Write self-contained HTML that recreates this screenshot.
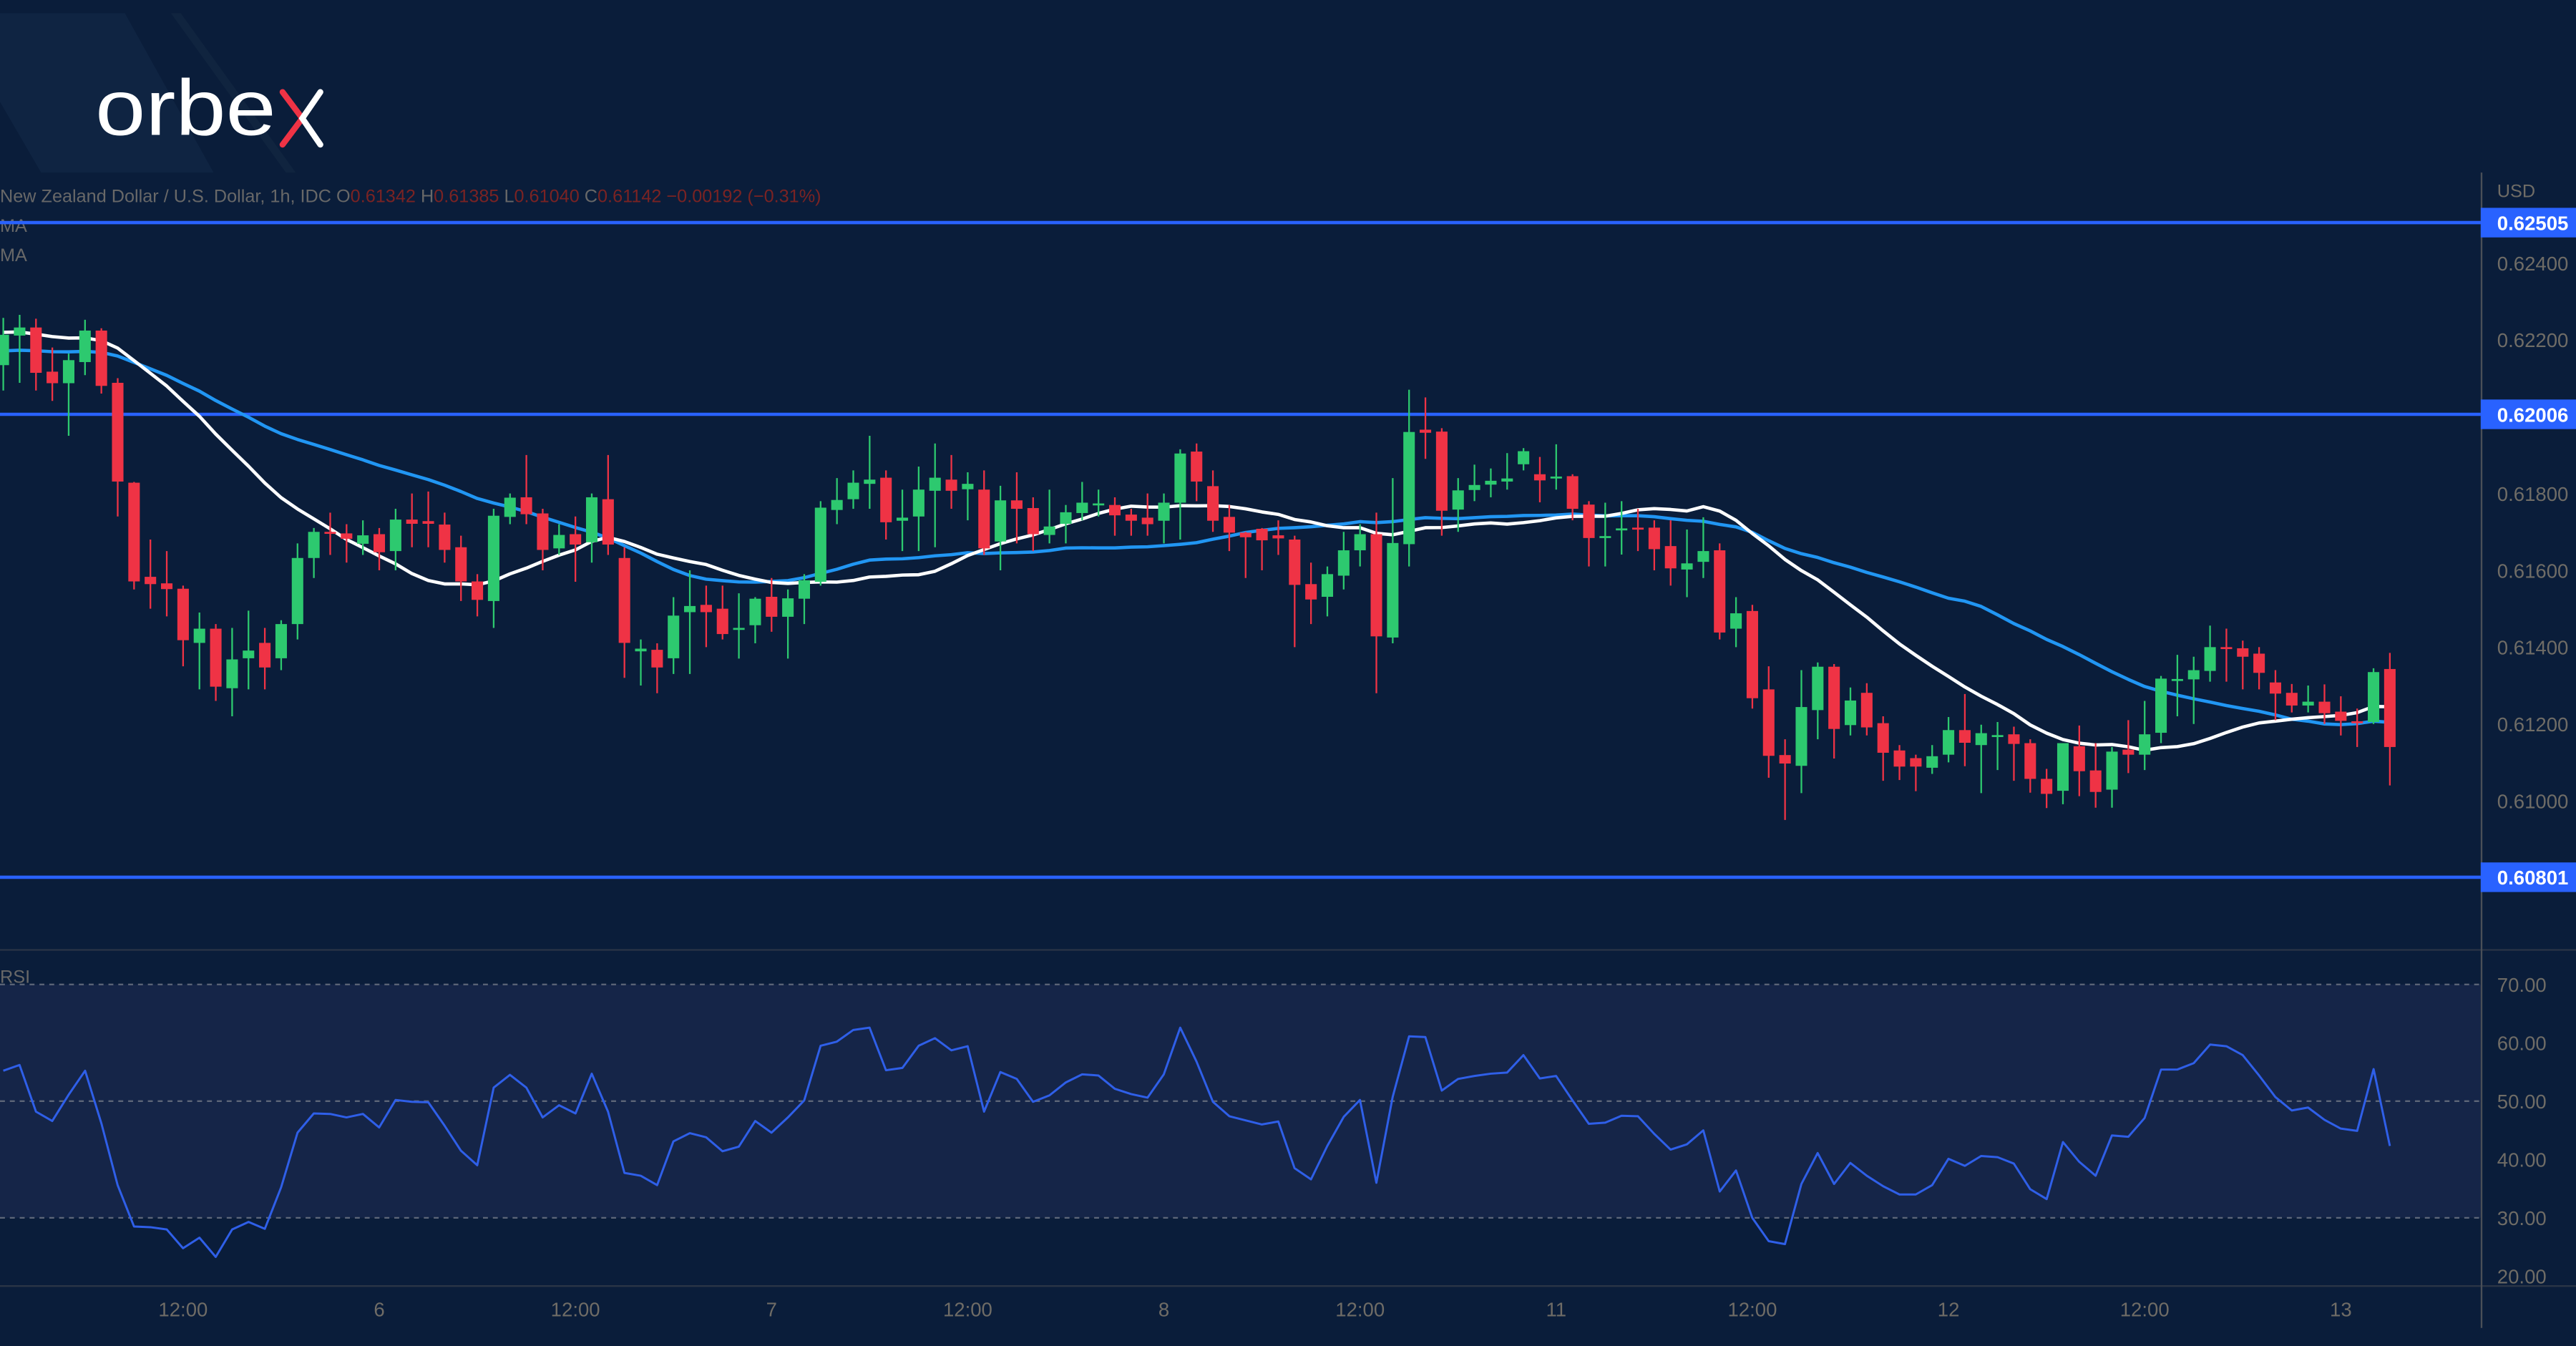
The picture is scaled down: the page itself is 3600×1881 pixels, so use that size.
<!DOCTYPE html>
<html><head><meta charset="utf-8"><title>NZDUSD 1h</title>
<style>html,body{margin:0;padding:0;background:#0a1d3a;overflow:hidden}svg{display:block}
text{font-family:"Liberation Sans",sans-serif}</style></head>
<body>
<svg id="chart" width="3600" height="1881" viewBox="0 0 1568 819" preserveAspectRatio="none" xmlns="http://www.w3.org/2000/svg">
<rect x="0" y="0" width="1568" height="819" fill="#0a1d3a"/>
<g>
<polygon points="0,8 76,8 130,105 25,105 0,62" fill="#0f2442"/>
<polygon points="104,8 110,8 180,105 174,105" fill="#10243f"/>
<text x="58" y="82" font-size="48" fill="#ffffff" textLength="110" lengthAdjust="spacingAndGlyphs">orbe</text>
<path d="M172,56 L184,72 L172,88" stroke="#ef3345" stroke-width="3.6" fill="none" stroke-linecap="round"/>
<path d="M195,56 L184,72 L195,88" stroke="#ffffff" stroke-width="3.6" fill="none" stroke-linecap="round"/>
</g>
<text x="0" y="123" font-size="11" fill="#686868">New Zealand Dollar / U.S. Dollar, 1h, IDC  <tspan>O</tspan><tspan fill="#7a2323">0.61342</tspan>  H<tspan fill="#7a2323">0.61385</tspan>  L<tspan fill="#7a2323">0.61040</tspan>  C<tspan fill="#7a2323">0.61142</tspan>  <tspan fill="#7a2323">−0.00192 (−0.31%)</tspan></text>
<text x="0" y="141" font-size="11" fill="#686868">MA</text>
<text x="0" y="159" font-size="11" fill="#686868">MA</text>
<rect x="0" y="599" width="1510" height="142" fill="#152548"/>
<line x1="0" y1="578" x2="1568" y2="578" stroke="#2a3446" stroke-width="1"/>
<line x1="0" y1="782.5" x2="1568" y2="782.5" stroke="#2a3446" stroke-width="1"/>
<line x1="1510.5" y1="105" x2="1510.5" y2="808" stroke="#4a4f57" stroke-width="1"/>
<text x="0" y="598" font-size="11" fill="#686868">RSI</text>
<g id="axes"></g>
<g id="levels"></g>
<g id="ma"></g>
<g id="candles"></g>
<g id="rsi"></g>
</svg>
<script>
const opens=[.62134,.62211,.62232,.62117,.62087,.62142,.62224,.62088,.61828,.61583,.61566,.61552,.61411,.61448,.61293,.61371,.61411,.61371,.61460,.61632,.61700,.61696,.61669,.61694,.61650,.61732,.61728,.61719,.61660,.61571,.61520,.61739,.61790,.61748,.61657,.61694,.61673,.61785,.61632,.61389,.61393,.61371,.61491,.61510,.61500,.61446,.61457,.61531,.61479,.61526,.61570,.61757,.61785,.61825,.61841,.61729,.61740,.61807,.61836,.61811,.61810,.61675,.61782,.61762,.61692,.61721,.61749,.61772,.61770,.61745,.61737,.61729,.61776,.61909,.61819,.61739,.61698,.61708,.61691,.61680,.61564,.61531,.61586,.61652,.61694,.61425,.61668,.61966,.61961,.61758,.61809,.61823,.61831,.61876,.61850,.61843,.61845,.61771,.61685,.61704,.61711,.61711,.61663,.61602,.61622,.61652,.61448,.61494,.61290,.61119,.61091,.61236,.61349,.61197,.61281,.61202,.61131,.61111,.61086,.61120,.61184,.61145,.61169,.61173,.61150,.61057,.61026,.61142,.61079,.61029,.61133,.61120,.61177,.61313,.61316,.61338,.61400,.61397,.61383,.61308,.61281,.61248,.61258,.61232,.61207,.61205,.61343];
const highs=[.62257,.62265,.62255,.62180,.62164,.62252,.62230,.62100,.61830,.61680,.61650,.61560,.61490,.61460,.61450,.61495,.61450,.61470,.61670,.61710,.61750,.61720,.61730,.61710,.61760,.61800,.61805,.61750,.61690,.61590,.61760,.61800,.61900,.61760,.61720,.61740,.61800,.61900,.61660,.61420,.61410,.61530,.61600,.61560,.61560,.61540,.61530,.61580,.61550,.61590,.61780,.61840,.61860,.61950,.61860,.61810,.61870,.61930,.61900,.61855,.61860,.61820,.61855,.61790,.61810,.61770,.61830,.61810,.61790,.61760,.61800,.61800,.61915,.61930,.61860,.61770,.61700,.61710,.61730,.61690,.61620,.61610,.61700,.61720,.61750,.61840,.62070,.62050,.61970,.61840,.61875,.61865,.61905,.61918,.61895,.61928,.61850,.61780,.61776,.61780,.61760,.61730,.61730,.61706,.61738,.61670,.61530,.61510,.61350,.61160,.61340,.61360,.61356,.61295,.61306,.61220,.61145,.61120,.61145,.61218,.61278,.61198,.61205,.61193,.61160,.61083,.61150,.61196,.61150,.61140,.61210,.61260,.61325,.61380,.61375,.61456,.61448,.61417,.61400,.61340,.61304,.61300,.61303,.61272,.61240,.61345,.61385];
const lows=[.62068,.62088,.62068,.62041,.61950,.62108,.62060,.61740,.61550,.61500,.61480,.61350,.61290,.61260,.61220,.61290,.61290,.61340,.61420,.61580,.61640,.61620,.61640,.61600,.61600,.61660,.61660,.61620,.61520,.61480,.61450,.61720,.61720,.61600,.61640,.61570,.61620,.61640,.61320,.61300,.61280,.61330,.61330,.61400,.61420,.61370,.61410,.61440,.61370,.61460,.61560,.61720,.61760,.61760,.61680,.61650,.61650,.61660,.61760,.61730,.61640,.61600,.61670,.61650,.61670,.61670,.61730,.61740,.61690,.61690,.61690,.61670,.61680,.61780,.61700,.61650,.61580,.61600,.61640,.61400,.61460,.61480,.61550,.61610,.61280,.61410,.61610,.61890,.61690,.61700,.61780,.61790,.61810,.61860,.61777,.61810,.61730,.61610,.61610,.61641,.61650,.61600,.61560,.61530,.61580,.61420,.61400,.61240,.61060,.60950,.61020,.61160,.61110,.61170,.61170,.61052,.61054,.61025,.61070,.61100,.61090,.61020,.61080,.61052,.61021,.60981,.60991,.61012,.60982,.60982,.61072,.61080,.61150,.61220,.61200,.61310,.61310,.61290,.61290,.61210,.61230,.61230,.61200,.61170,.61140,.61200,.61040];
const closes=[.62213,.62232,.62114,.62087,.62147,.62224,.62080,.61831,.61571,.61564,.61551,.61418,.61448,.61297,.61368,.61391,.61347,.61460,.61632,.61700,.61696,.61682,.61691,.61647,.61732,.61721,.61721,.61653,.61571,.61523,.61742,.61789,.61746,.61653,.61692,.61667,.61790,.61667,.61411,.61396,.61347,.61482,.61507,.61491,.61434,.61450,.61526,.61479,.61527,.61574,.61763,.61783,.61828,.61836,.61725,.61737,.61810,.61841,.61807,.61825,.61657,.61782,.61760,.61694,.61714,.61751,.61776,.61774,.61743,.61729,.61720,.61776,.61904,.61831,.61729,.61698,.61686,.61678,.61683,.61562,.61524,.61590,.61652,.61694,.61428,.61671,.61960,.61958,.61755,.61808,.61822,.61833,.61839,.61910,.61834,.61844,.61760,.61684,.61689,.61709,.61706,.61655,.61605,.61618,.61650,.61438,.61488,.61267,.61117,.61097,.61244,.61349,.61187,.61261,.61191,.61125,.61089,.61089,.61116,.61184,.61151,.61176,.61171,.61148,.61057,.61018,.61150,.61077,.61023,.61128,.61120,.61173,.61318,.61317,.61340,.61400,.61395,.61375,.61333,.61279,.61248,.61258,.61228,.61208,.61202,.61335,.61140];
const rsiValues=[55.2,56.2,48.2,46.6,51.1,55.2,46.2,35.6,28.5,28.4,28.0,24.8,26.6,23.3,28.0,29.3,28.1,35.2,44.6,47.9,47.8,47.2,47.8,45.5,50.2,49.9,49.8,45.8,41.5,39.0,52.3,54.5,52.3,47.2,49.3,47.9,54.7,48.2,37.7,37.2,35.6,43.1,44.5,43.8,41.4,42.2,46.6,44.6,47.2,50.1,59.5,60.2,62.2,62.6,55.3,55.7,59.5,60.8,58.7,59.4,48.2,55.0,53.8,49.9,51.0,53.2,54.6,54.4,52.1,51.2,50.6,54.6,62.6,56.8,49.9,47.4,46.7,46.0,46.5,38.5,36.6,42.3,47.3,50.2,36.0,50.7,61.1,61.0,51.8,53.8,54.3,54.7,54.9,57.9,53.9,54.3,50.1,46.1,46.3,47.5,47.4,44.4,41.7,42.6,45.0,34.5,38.1,30.0,26.0,25.5,35.8,41.1,35.8,39.4,37.2,35.4,34.0,34.0,35.6,40.1,38.9,40.6,40.4,39.3,34.9,33.2,43.0,39.6,37.2,44.1,43.9,47.1,55.4,55.4,56.5,59.7,59.4,57.9,54.4,50.7,48.4,48.9,46.8,45.3,44.9,55.5,42.3];
const priceTicks=[0.624,0.622,0.618,0.616,0.614,0.612,0.610];
const levelPrices=[0.62505,0.62006,0.60801];
const rsiTicks=[70,60,50,40,30,20];
const timeLabels=["12:00","6","12:00","7","12:00","8","12:00","11","12:00","12","12:00","13"];
const timeLabelIndex=[11,23,35,47,59,71,83,95,107,119,131,143];
const maFastLen=20, maSlowLen=36, maSeedFast=0.6222, maSeedSlow=0.6217;

const NS="http://www.w3.org/2000/svg";
const xC=i=>2+i*9.95;
const yP=p=>160+(0.624-p)*23375;
const yR=v=>599+(70-v)*3.55;
function mk(tag,attrs,parent){const e=document.createElementNS(NS,tag);for(const k in attrs)e.setAttribute(k,attrs[k]);parent.appendChild(e);return e;}
const G=id=>document.getElementById(id);

levelPrices.forEach(p=>{
  const l=mk('line',{x1:0,x2:1510,y1:yP(p),y2:yP(p),stroke:'#2962ff','stroke-width':2},G('levels'));
  
  
  const r=mk('rect',{x:1510,y:yP(p)-9,width:58,height:18,fill:'#2962ff'},G('levels'));
  
  
  const t=mk('text',{x:1520,y:yP(p)+4.5,'font-size':12,'font-weight':'bold',fill:'#ffffff'},G('levels'));
  t.textContent=p.toFixed(5);
  
  
});
priceTicks.forEach(p=>{
  const t=mk('text',{x:1520,y:yP(p)+4.5,'font-size':12,fill:'#6f6c66'},G('axes'));
  t.textContent=p.toFixed(5);
  
  
});
{const t=mk('text',{x:1520,y:120,'font-size':11,fill:'#6f6c66'},G('axes'));t.textContent='USD';

}
rsiTicks.forEach(v=>{
  const t=mk('text',{x:1520,y:yR(v)+4.5,'font-size':12,fill:'#6f6c66'},G('axes'));
  t.textContent=v.toFixed(2);
  
  
});
timeLabels.forEach((s,k)=>{
  const t=mk('text',{x:xC(timeLabelIndex[k]),y:801,'font-size':12,fill:'#6f6c66','text-anchor':'middle'},G('axes'));
  t.textContent=s;
  
  
});
[70,50,30].forEach(v=>{
  const l=mk('line',{x1:0,x2:1510,y1:yR(v),y2:yR(v),stroke:'#5d6678','stroke-width':1,'stroke-dasharray':'3,3'},G('rsi'));
  
  
});
function sma(n,seed){return closes.map((c,i)=>{let s=0;for(let k=i-n+1;k<=i;k++)s+=k<0?seed:closes[k];return s/n;});}
[[maSlowLen,maSeedSlow,'#2196f3','ma-slow-line'],[maFastLen,maSeedFast,'#ffffff','ma-fast-line']].forEach(([n,seed,col,name])=>{
  const pts=sma(n,seed).map((v,i)=>xC(i).toFixed(1)+','+yP(v).toFixed(1)).join(' ');
  const pl=mk('polyline',{points:pts,fill:'none',stroke:col,'stroke-width':2,'stroke-linejoin':'round'},G('ma'));
  
  
});
closes.forEach((c,i)=>{
  const o=opens[i],up=c>=o,col=up?'#2dc96f':'#ef3345',x=xC(i);
  const g=mk('g',{},G('candles'));
  
  
  mk('line',{x1:x,x2:x,y1:yP(highs[i]),y2:yP(lows[i]),stroke:col,'stroke-width':1},g);
  const top=yP(Math.max(o,c)),bot=yP(Math.min(o,c));
  mk('rect',{x:x-3.5,y:top,width:7,height:Math.max(1.2,bot-top),fill:col},g);
});
{const pts=rsiValues.map((v,i)=>xC(i).toFixed(1)+','+yR(v).toFixed(1)).join(' ');
const pl=mk('polyline',{points:pts,fill:'none',stroke:'#2f5fe8','stroke-width':1.3,'stroke-linejoin':'round'},G('rsi'));

}
</script>
</body></html>
